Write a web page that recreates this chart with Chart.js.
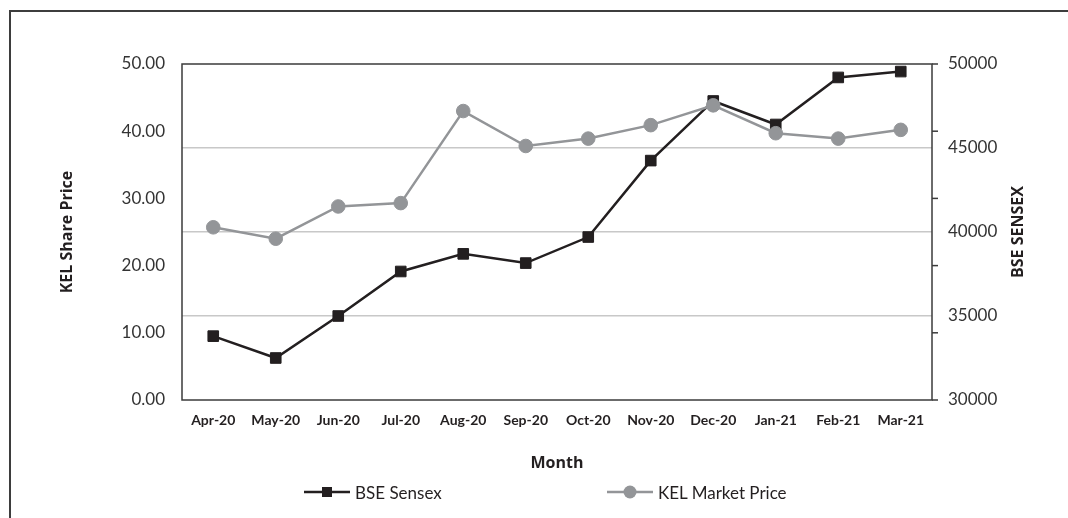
<!DOCTYPE html>
<html>
<head>
<meta charset="utf-8">
<script src="https://cdn.jsdelivr.net/npm/chart.js@4.4.1/dist/chart.umd.min.js"></script>
<style>
  body { margin: 0; background: #fff; overflow: hidden; }
  #wrap { position: relative; width: 1068px; height: 518px; }
  #frame { position: absolute; left: 9px; top: 10px; width: 1100px; height: 600px;
           border-left: 2px solid #3d3d3d; border-top: 2px solid #3d3d3d; }
  #myChart { position: absolute; left: 0; top: 0; }
  .leg { position: absolute; top: 481px; height: 22px; font: 17px Lato, sans-serif; color: #231f20;
         display: flex; align-items: center; white-space: nowrap; }
  .leg svg { margin-right: 5px; }
</style>
</head>
<body>
<div id="wrap">
  <div id="frame"></div>
  <canvas id="myChart" width="1068" height="518"></canvas>
  <div class="leg" style="left:304px"><svg width="46" height="14"><line x1="0" y1="7" x2="46" y2="7" stroke="#231f20" stroke-width="2.5"/><rect x="18" y="2" width="10" height="10" fill="#231f20"/></svg>BSE Sensex</div>
  <div class="leg" style="left:607px"><svg width="46" height="14"><line x1="0" y1="7" x2="46" y2="7" stroke="#939598" stroke-width="2.5"/><circle cx="23" cy="7" r="6.5" fill="#939598"/></svg>KEL Market Price</div>
</div>
<script>
var months = ["Apr-20", "May-20", "Jun-20", "Jul-20", "Aug-20", "Sep-20", "Oct-20", "Nov-20", "Dec-20", "Jan-21", "Feb-21", "Mar-21"];
var bseSensex = [33800, 32500, 35000, 37650, 38700, 38150, 39700, 44250, 47800, 46400, 49200, 49550];
var kelPrice = [25.7, 24.0, 28.8, 29.3, 43.0, 37.8, 38.9, 40.9, 43.85, 39.7, 38.9, 40.2];

var dark = "#231f20";
var grey = "#939598";
var titleFont = { family: 'Open Sans', size: 16, weight: 'bold' };

// plot box, right-side tick marks and the right axis title (reads bottom to top)
var boxPlugin = {
  id: 'box',
  afterDraw: function (chart) {
    var c = chart.ctx, a = chart.chartArea;
    c.save();
    c.strokeStyle = "#3b3b3b";
    c.lineWidth = 1.5;
    c.strokeRect(a.left, a.top, a.right - a.left, a.bottom - a.top);
    chart.scales.y.ticks.forEach(function (t) {
      var y = chart.scales.y.getPixelForValue(t.value);
      c.beginPath();
      c.moveTo(a.right, y);
      c.lineTo(a.right + 6, y);
      c.stroke();
    });
    c.translate(1018, (a.top + a.bottom) / 2);
    c.rotate(-Math.PI / 2);
    c.fillStyle = dark;
    c.font = "bold 16px 'Open Sans'";
    c.textAlign = 'center';
    c.textBaseline = 'middle';
    c.fillText('BSE SENSEX', 0, 0);
    c.restore();
  }
};

var ctx = document.getElementById("myChart").getContext('2d');
var myChart = new Chart(ctx, {
  type: 'line',
  plugins: [boxPlugin],
  data: {
    labels: months,
    datasets: [{
      label: "BSE Sensex",
      data: bseSensex,
      yAxisID: 'y1',
      order: 2,
      borderColor: dark,
      backgroundColor: dark,
      borderWidth: 2.5,
      pointStyle: 'rect',
      pointRadius: 7.5,
      pointBorderWidth: 1,
      tension: 0
    }, {
      label: "KEL Market Price",
      data: kelPrice,
      yAxisID: 'y',
      order: 1,
      borderColor: grey,
      backgroundColor: grey,
      borderWidth: 2.5,
      pointStyle: 'circle',
      pointRadius: 6.8,
      pointBorderWidth: 1,
      tension: 0
    }]
  },
  options: {
    responsive: false,
    animation: false,
    layout: { padding: { left: 58, right: 41, top: 64, bottom: 45 } },
    plugins: {
      legend: { display: false },
      tooltip: { enabled: false }
    },
    scales: {
      x: {
        offset: true,
        grid: { display: false, drawTicks: false },
        border: { display: false },
        ticks: { padding: 12, color: dark, maxRotation: 0, font: { family: 'Lato', size: 14, weight: 'bold' } },
        title: { display: true, text: 'Month', color: dark, padding: { top: 13, bottom: 0 },
                 font: { family: 'Open Sans', size: 16, weight: 'bold' } }
      },
      y: {
        position: 'left',
        min: 0, max: 50,
        grid: { display: false, drawTicks: false },
        border: { display: false },
        afterFit: function (s) { s.width = 124; },
        ticks: { stepSize: 10, padding: 17, color: "#333",
                 font: { family: 'Lato', size: 17 },
                 callback: function (v) { return v.toFixed(2); } },
        title: { display: true, text: 'KEL Share Price', color: dark, padding: 0, font: titleFont }
      },
      y1: {
        position: 'right',
        min: 30000, max: 50000,
        border: { display: false },
        afterFit: function (s) { s.width = 95; },
        grid: {
          drawTicks: false,
          lineWidth: 1.5,
          color: function (c) {
            var v = c.tick ? c.tick.value : 0;
            return (v === 30000 || v === 50000) ? 'rgba(0,0,0,0)' : '#c8c8c8';
          }
        },
        ticks: { stepSize: 5000, padding: 16, color: "#333",
                 font: { family: 'Lato', size: 17 },
                 callback: function (v) { return String(v); } }
      }
    }
  }
});
</script>
</body>
</html>
